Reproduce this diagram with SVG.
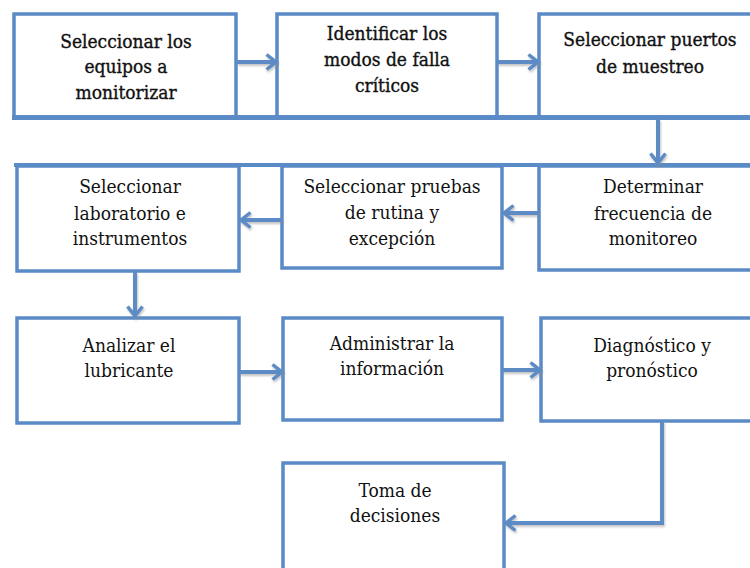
<svg xmlns="http://www.w3.org/2000/svg" width="750" height="568" viewBox="0 0 750 568">
<style>
.box{fill:#fff;stroke:#5B8BC6;stroke-width:3.5}
.bar{stroke:#5B8BC6;fill:none}
.con{stroke:#5B8BC6;stroke-width:4;fill:none}
text{font-family:'DejaVu Serif Condensed','DejaVu Serif',serif;font-stretch:condensed;font-size:19px;fill:#111;text-anchor:middle}
.t1{stroke:#111;stroke-width:0.35}
</style>
<defs>
<marker id="ah" markerUnits="userSpaceOnUse" markerWidth="14" markerHeight="20" refX="11" refY="9" orient="auto">
<path d="M1.5,1.5 L11,9 L1.5,16.5" fill="none" stroke="#5B8BC6" stroke-width="3.5"/>
</marker>
<filter id="sh" x="-10%" y="-50%" width="120%" height="200%">
<feDropShadow dx="1" dy="2" stdDeviation="1.2" flood-color="#888" flood-opacity="0.5"/>
</filter>
</defs>
<g id="n1"><rect class="box" x="14" y="14" width="222" height="103"/>
<text class="t1" x="126" y="48">Seleccionar los</text><text class="t1" x="126" y="73">equipos a</text><text class="t1" x="126" y="99">monitorizar</text></g>
<g id="n2"><rect class="box" x="277" y="14" width="220" height="103"/>
<text class="t1" x="387" y="40">Identificar los</text><text class="t1" x="387" y="66">modos de falla</text><text class="t1" x="387" y="92">críticos</text></g>
<g id="n3"><rect class="box" x="539" y="14" width="230" height="103"/>
<text class="t1" x="650" y="46">Seleccionar puertos</text><text class="t1" x="650" y="73">de muestreo</text></g>
<path class="bar" d="M12,117.5 H750" stroke-width="5"/>

<g id="n4"><rect class="box" x="17" y="166" width="222" height="105"/>
<text x="130" y="193">Seleccionar</text><text x="130" y="220">laboratorio e</text><text x="130" y="245">instrumentos</text></g>
<g id="n5"><rect class="box" x="282" y="166" width="220" height="102"/>
<text x="392" y="193">Seleccionar pruebas</text><text x="392" y="219">de rutina y</text><text x="392" y="245">excepción</text></g>
<g id="n6"><rect class="box" x="539" y="166" width="230" height="104"/>
<text x="653" y="193">Determinar</text><text x="653" y="220">frecuencia de</text><text x="653" y="245">monitoreo</text></g>
<path class="bar" d="M14,165 H750" stroke-width="4"/>

<g id="n7"><rect class="box" x="17" y="318" width="222" height="105"/>
<text x="129" y="352">Analizar el</text><text x="129" y="377">lubricante</text></g>
<g id="n8"><rect class="box" x="283" y="318" width="219" height="102"/>
<text x="392" y="350">Administrar la</text><text x="392" y="375">información</text></g>
<g id="n9"><rect class="box" x="541" y="318" width="230" height="103"/>
<text x="652" y="352">Diagnóstico y</text><text x="652" y="377">pronóstico</text></g>

<g id="n10"><rect class="box" x="283" y="463" width="221" height="120"/>
<text x="395" y="497">Toma de</text><text x="395" y="522">decisiones</text></g>

<g id="connectors" filter="url(#sh)">
<path class="con" d="M237,62 H276" marker-end="url(#ah)"/>
<path class="con" d="M497,62 H538" marker-end="url(#ah)"/>
<path class="con" d="M658,119 V163" marker-end="url(#ah)"/>
<path class="con" d="M539,213 H504" marker-end="url(#ah)"/>
<path class="con" d="M282,220 H241" marker-end="url(#ah)"/>
<path class="con" d="M135,272 V316" marker-end="url(#ah)"/>
<path class="con" d="M239,372 H282" marker-end="url(#ah)"/>
<path class="con" d="M502,370 H540" marker-end="url(#ah)"/>
<path class="con" d="M662,421 V523 H506" marker-end="url(#ah)"/>
</g>
</svg>
